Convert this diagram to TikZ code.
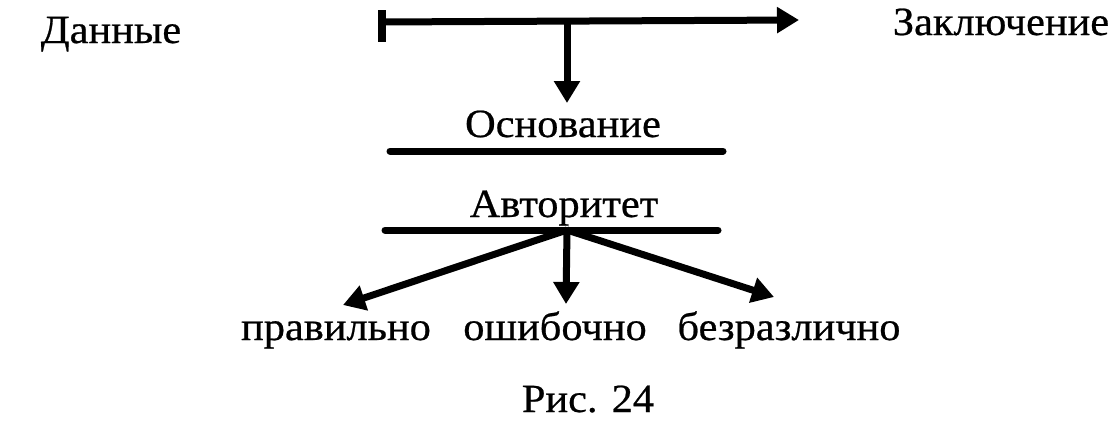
\documentclass[tikz,border=0pt]{standalone}
\usepackage{fontspec}
\setmainfont{Liberation Serif}[FakeStretch=1.06,FakeBold=0.6]
\usetikzlibrary{arrows.meta}
\begin{document}
\begin{tikzpicture}[x=1pt,y=-1pt,
  lbl/.style={inner sep=0pt,anchor=base,font=\fontsize{40}{48}\selectfont},
  thick line/.style={line width=7pt},
  arr/.style={thick line,-{Triangle[length=22pt,width=25pt]}}]
\useasboundingbox (0,0) rectangle (1119,426);
\node[lbl] (dan) at (111,43) {Данные};
\node[lbl] (zak) at (1001,35) {Заключение};
\coordinate (bar top) at (382,10);
\coordinate (bar bot) at (382,42);
\coordinate (start) at (379,22);
\coordinate (end) at (799,20);
\coordinate (split) at (567,22);
\draw[line width=8pt] (bar top) -- (bar bot);
\draw[arr] (start) -- (end);
\coordinate (down) at (567,103);
\draw[arr] (split) -- (down);
\node[lbl] (osn) at (563,137) {Основание};
\coordinate (l1a) at (390,151);
\coordinate (l1b) at (723,151);
\draw[thick line,line cap=round] (l1a) -- (l1b);
\node[lbl] (avt) at (564,217) {Авторитет};
\coordinate (l2a) at (385,230);
\coordinate (l2b) at (718,230);
\draw[thick line,line cap=round] (l2a) -- (l2b);
\coordinate (hub) at (567,230);
\coordinate (t1) at (343,305);
\coordinate (t2) at (566,304);
\coordinate (t3) at (774,297);
\draw[arr] (hub) -- (t1);
\draw[arr] (hub) -- (t2);
\draw[arr] (hub) -- (t3);
\node[lbl] (prav) at (336,340) {правильно};
\node[lbl] (osh) at (555,340) {ошибочно};
\node[lbl] (bez) at (789,340) {безразлично};
\node[lbl] (fig) at (588,412) {Рис. 24};
\end{tikzpicture}
\end{document}
